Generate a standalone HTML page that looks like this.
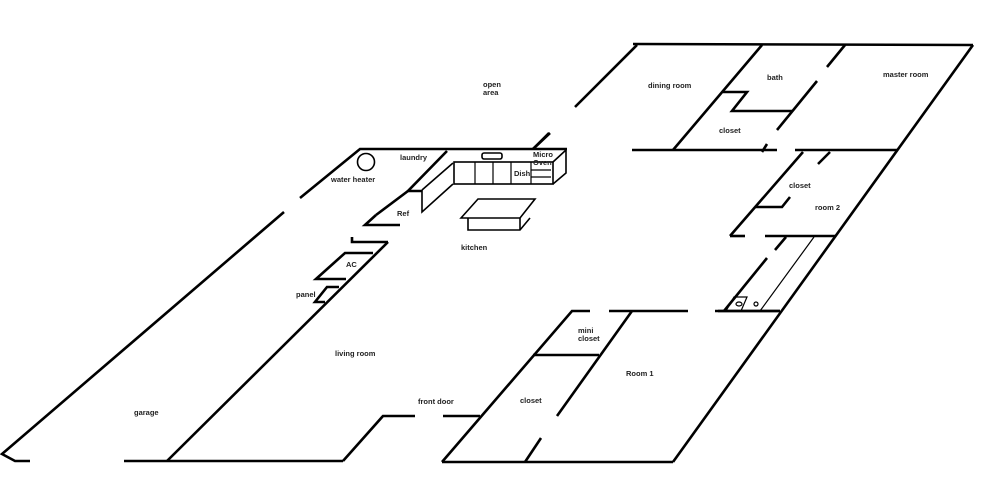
<!DOCTYPE html>
<html><head><meta charset="utf-8"><style>
html,body{margin:0;padding:0;background:#fff;}
svg{display:block;}
text{font-family:"Liberation Sans",Arial,sans-serif;font-size:7.5px;font-weight:bold;fill:#222;}
</style></head><body>
<svg width="1000" height="498" viewBox="0 0 1000 498" xmlns="http://www.w3.org/2000/svg">
<g stroke="#000" stroke-width="2.6" fill="none" stroke-linecap="butt" stroke-linejoin="miter">
<!-- garage / living -->
<polyline points="284,212 2,454 15,461 30,461"/>
<line x1="124" y1="461" x2="343" y2="461"/>
<polyline points="343,461 383,416 415,416"/>
<line x1="167" y1="461" x2="388" y2="242"/>
<polyline points="352,237 352,242 388,242"/>
<!-- AC -->
<polyline points="373,253 345,253 316,279 346,279"/>
<!-- panel -->
<polyline points="339,287 327,287 315,302 325,302"/>
<!-- water heater / laundry -->
<polyline points="300,198 360,149 567,149"/>
<line x1="533" y1="149" x2="550" y2="133"/>
<polyline points="447,151 408,191 422,191"/>
<polyline points="376,215 365,225 400,225"/>
<line x1="408" y1="191" x2="376" y2="215"/>
<!-- front door & room1 block -->
<line x1="443" y1="416" x2="480" y2="416"/>
<polyline points="442,462 572,311 590,311"/>
<line x1="609" y1="311" x2="688" y2="311"/>
<line x1="718" y1="311" x2="780" y2="311"/>
<line x1="442" y1="462" x2="673" y2="462"/>
<line x1="673" y1="462" x2="973" y2="45"/>
<line x1="533" y1="355" x2="599" y2="355"/>
<line x1="632" y1="311" x2="557" y2="416"/>
<line x1="541" y1="438" x2="525" y2="462"/>
<!-- top rooms -->
<line x1="633" y1="44" x2="973" y2="45"/>
<line x1="637" y1="45" x2="575" y2="107"/>
<line x1="549" y1="133" x2="533" y2="149"/>
<line x1="632" y1="150" x2="777" y2="150"/>
<line x1="767" y1="144" x2="762" y2="152"/>
<line x1="762" y1="45" x2="673" y2="150"/>
<polyline points="723,92 747,92 732,111 793,111"/>
<line x1="817" y1="81" x2="777" y2="130"/>
<line x1="845" y1="45" x2="827" y2="67"/>
<!-- room 2 -->
<line x1="795" y1="150" x2="897" y2="150"/>
<line x1="803" y1="152" x2="730" y2="236"/>
<line x1="818" y1="164" x2="830" y2="152"/>
<polyline points="755,207 782,207 790,197"/>
<line x1="730" y1="236" x2="745" y2="236"/>
<line x1="765" y1="236" x2="835" y2="236"/>
<!-- hallway -->
<line x1="786" y1="237" x2="775" y2="250"/>
<line x1="767" y1="258" x2="724" y2="311"/>
<line x1="715" y1="311" x2="780" y2="311"/>
</g>
<g stroke="#000" stroke-width="1.2" fill="none">
<line x1="814" y1="237" x2="760" y2="311"/>
<polyline points="726,311 734,297 747,297 741,311"/>
<ellipse cx="739" cy="304" rx="3" ry="2"/>
<circle cx="756" cy="304" r="2"/>
<circle cx="366" cy="162" r="8.5" stroke-width="1.6"/>
<!-- kitchen counter -->
<rect x="454" y="162" width="99" height="22" stroke-width="1.6"/>
<line x1="475" y1="162" x2="475" y2="184"/>
<line x1="493" y1="162" x2="493" y2="184"/>
<line x1="511" y1="162" x2="511" y2="184"/>
<line x1="531" y1="162" x2="531" y2="184"/>
<line x1="531" y1="170" x2="551" y2="170"/>
<line x1="531" y1="177" x2="551" y2="177"/>
<polyline points="553,162 566,150 566,173 553,184" stroke-width="1.6"/>
<polyline points="422,190 453,163" stroke-width="1.6"/>
<polyline points="422,190 422,212 453,184" stroke-width="1.6"/>
<rect x="482" y="153" width="20" height="6" rx="2" stroke-width="1.6"/>
<!-- island -->
<polygon points="461,218 478,199 535,199 520,218" stroke-width="1.6"/>
<polyline points="468,218 468,230 520,230 530,218" stroke-width="1.6"/>
<line x1="520" y1="218" x2="520" y2="230" stroke-width="1.6"/>
</g>
<text x="483" y="87">open</text>
<text x="483" y="95">area</text>
<text x="648" y="88">dining room</text>
<text x="767" y="80">bath</text>
<text x="883" y="77">master room</text>
<text x="719" y="133">closet</text>
<text x="400" y="160">laundry</text>
<text x="331" y="182">water heater</text>
<text x="533" y="157">Micro</text>
<text x="533" y="165">Oven</text>
<text x="514" y="176">Dish</text>
<text x="397" y="216">Ref</text>
<text x="461" y="250">kitchen</text>
<text x="789" y="188">closet</text>
<text x="815" y="210">room 2</text>
<text x="346" y="267">AC</text>
<text x="296" y="297">panel</text>
<text x="578" y="333">mini</text>
<text x="578" y="341">closet</text>
<text x="335" y="356">living room</text>
<text x="626" y="376">Room 1</text>
<text x="418" y="404">front door</text>
<text x="520" y="403">closet</text>
<text x="134" y="415">garage</text>
</svg>
</body></html>
